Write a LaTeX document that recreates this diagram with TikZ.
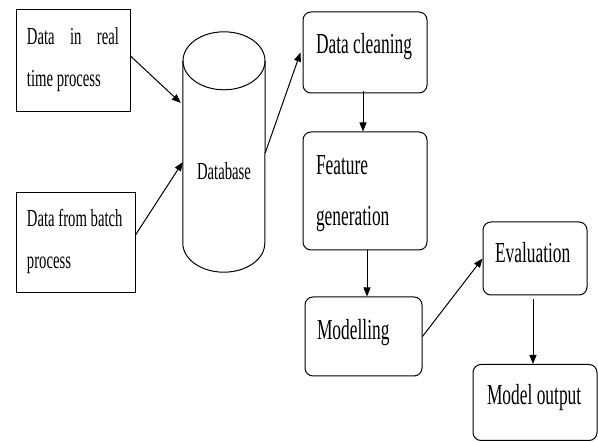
\documentclass[tikz,border=0pt]{standalone}
\usepackage{fontspec}
\newfontfamily\condfont[FakeStretch=0.6]{Liberation Serif}
\usetikzlibrary{arrows.meta,positioning}

% lifted, zero-size text block inside a box
\newcommand{\boxtext}[3]{\raisebox{#1}[0pt][0pt]{\parbox[t]{#2}{\raggedright #3}}}

\begin{document}
\begin{tikzpicture}[x=1pt,y=1pt,
    source/.style={draw, line width=1pt, inner sep=0pt, font=\condfont\fontsize{24.5}{42}\selectfont},
    stage/.style={draw, line width=1pt, rounded corners=8pt, inner sep=0pt, font=\condfont\fontsize{29}{51}\selectfont},
    flow/.style={-{Triangle[length=9pt,width=7pt]}, line width=1pt}]
  \useasboundingbox (0,0) rectangle (598,442);

  % input sources
  \node[source, minimum width=114pt, minimum height=102pt] (realtime) at (73,381)
    {\boxtext{16pt}{92pt}{Data\hfill in\hfill real\\time process}};
  \node[source, minimum width=119pt, minimum height=100pt] (batch) at (75.5,199)
    {\boxtext{16pt}{97pt}{Data from batch\\process}};

  % database cylinder
  \node[inner sep=0pt, minimum width=82pt, minimum height=240pt, font=\condfont\fontsize{24.5}{42}\selectfont] (db) at (224,290)
    {\raisebox{-28pt}[0pt][0pt]{Database}};
  \draw[line width=1pt] ([yshift=-29pt]db.north) ellipse [x radius=41pt, y radius=29pt];
  \draw[line width=1pt] ([yshift=-29pt]db.north west) -- ([yshift=29pt]db.south west)
    arc[start angle=180, end angle=360, x radius=41pt, y radius=29pt] -- ([yshift=-29pt]db.north east);

  % pipeline stages
  \node[stage, minimum width=124pt, minimum height=81pt] (clean) at (365,389.5)
    {\boxtext{-1.5pt}{98pt}{Data cleaning}};
  \node[stage, minimum width=124pt, minimum height=118pt] (feature) at (365,251)
    {\boxtext{16pt}{98pt}{Feature\\generation}};
  \node[stage, minimum width=117pt, minimum height=79pt] (model) at (363.5,105.5)
    {\boxtext{-3pt}{93pt}{Modelling}};
  \node[stage, minimum width=104pt, minimum height=73pt] (eval) at (535,183.5)
    {\boxtext{-4.5pt}{80pt}{Evaluation}};
  \node[stage, minimum width=124pt, minimum height=76pt] (output) at (535,39.5)
    {\boxtext{-2pt}{96pt}{Model output}};

  % connectors
  \draw[flow] ([yshift=5pt]realtime.east) -- ([xshift=-2pt,yshift=49pt]db.west);
  \draw[flow] ([yshift=8pt]batch.east) -- ([yshift=-10pt]db.west);
  \draw[flow] ([yshift=-1pt]db.east) -- ([xshift=-2pt]clean.west);
  \draw[flow] ([xshift=-2pt,yshift=2pt]clean.south) -- ([xshift=-2pt]feature.north);
  \draw[flow] ([xshift=2pt]feature.south) -- ([xshift=2pt]feature.south |- model.north);
  \draw[flow] (model.east) -- (eval.west);
  \draw[flow] ([xshift=-2pt,yshift=-4pt]eval.south) -- ([xshift=-2pt]output.north);
\end{tikzpicture}
\end{document}
